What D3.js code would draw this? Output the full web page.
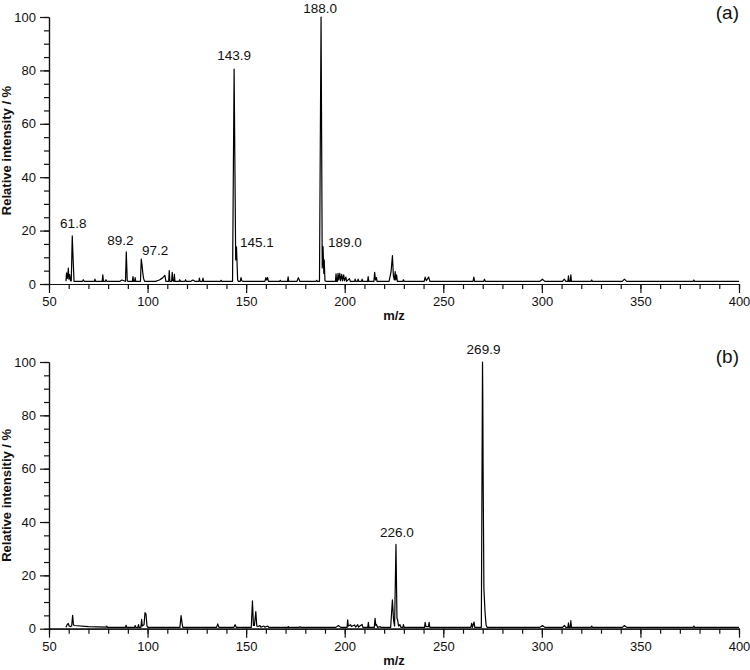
<!DOCTYPE html>
<html lang="en"><head>
<meta charset="utf-8">
<title>Mass spectra (a) and (b)</title>
<script src="https://d3js.org/d3.v7.min.js"></script>
<style>
  body { margin: 0; background: #fff; }
  svg text { font-family: "Liberation Sans", Arial, Helvetica, sans-serif; fill: #111; }
  .axis path, .axis line { stroke: #111; stroke-width: 1.2; fill: none; }
  .axis text { font-size: 13px; }
</style>
<script>
// --- data: [m/z, relative intensity %] ---
const spectrumA = [
  [58.6,1.0],[58.9,4.2],[59.2,2.0],[59.5,3.0],[59.8,6.0],[60.1,1.8],[60.5,3.5],[60.9,1.2],
  [61.3,1.2],[61.8,18.0],[62.3,8.0],[62.7,1.0],[67.0,1.0],[67.4,1.6],[67.8,1.0],
  [73.0,1.0],[73.3,1.8],[73.6,1.0],[77.0,1.0],[77.3,3.4],[77.6,1.0],[78.6,1.0],[78.9,1.6],[79.3,1.0],
  [86.0,1.0],[87.0,1.5],[88.0,1.2],[88.8,1.0],[89.2,12.0],[89.7,1.2],[90.0,1.0],
  [92.3,1.0],[92.6,2.8],[92.9,1.0],[93.4,1.0],[93.7,2.4],[94.0,1.0],
  [96.4,1.0],[96.8,9.3],[97.2,7.0],[97.6,4.0],[98.0,2.0],[98.5,1.0],
  [104.0,1.0],[106.0,1.5],[107.5,2.2],[108.8,3.2],[109.3,1.0],
  [110.7,1.0],[111.0,5.0],[111.3,1.0],[112.2,1.0],[112.5,4.4],[112.8,1.2],[113.3,1.0],[113.6,3.6],[113.9,1.0],
  [116.0,1.0],[116.3,1.6],[116.6,1.0],[119.0,1.0],[119.3,1.6],[119.6,1.0],
  [122.0,1.0],[123.0,1.5],[124.0,1.0],[126.0,1.0],[126.3,2.2],[126.6,1.0],[127.8,1.0],[128.1,2.2],[128.4,1.0],
  [137.0,1.0],[137.3,1.4],[137.6,1.0],
  [143.1,1.0],[143.9,80.5],[144.7,9.0],[145.1,13.9],[145.7,1.5],[146.1,1.0],
  [147.0,1.0],[147.4,2.4],[147.8,1.2],[148.3,1.0],
  [159.5,1.0],[160.0,2.4],[160.4,1.5],[160.9,2.4],[161.3,1.0],
  [167.0,1.0],[167.3,1.4],[167.6,1.0],[171.0,1.0],[171.3,2.7],[171.6,1.0],
  [175.8,1.0],[176.5,2.4],[177.2,1.0],[185.5,1.0],[185.8,1.4],[186.1,1.0],
  [187.2,1.0],[188.0,100],[188.6,6.0],[189.0,14.0],[189.4,4.0],[189.6,9.0],[190.0,1.2],[190.5,1.0],
  [195.3,1.0],[195.6,3.8],[195.9,1.0],[196.3,1.0],[196.6,4.0],[196.9,1.5],[197.5,4.0],[197.8,1.2],
  [198.5,3.6],[198.8,1.2],[199.5,3.4],[199.8,1.2],[200.6,2.6],[200.9,1.0],[202.4,2.0],[202.8,1.0],
  [205.0,1.0],[205.3,1.8],[205.6,1.0],[206.5,1.0],[206.8,1.8],[207.1,1.0],[208.5,1.0],[208.8,1.8],[209.1,1.0],
  [211.6,1.0],[211.9,2.8],[212.2,1.0],[214.8,1.0],[215.2,4.4],[215.6,1.5],[216.1,2.4],[216.4,1.0],
  [222.5,1.0],[223.5,4.5],[224.2,10.6],[224.7,3.0],[225.2,1.5],[225.6,4.6],[225.9,1.5],[226.3,3.4],[226.7,1.0],
  [229.5,1.0],[229.8,1.6],[230.1,1.0],
  [240.3,1.0],[240.8,2.6],[241.4,1.2],[242.6,2.6],[243.2,1.0],
  [265.1,1.0],[265.5,2.6],[265.9,1.0],[270.5,1.0],[270.9,1.8],[271.3,1.0],
  [299.0,1.0],[300.3,1.8],[301.5,1.0],
  [310.5,1.0],[311.4,1.8],[312.2,1.0],[313.2,1.0],[313.5,3.1],[313.8,1.0],[314.4,1.0],[314.7,3.4],[315.0,1.0],
  [325.0,1.0],[325.3,1.5],[325.6,1.0],[340.8,1.0],[341.9,1.8],[343.0,1.0],
  [376.8,1.0],[377.1,1.5],[377.4,1.0],[400,1.0]
];

const spectrumB = [
  [58.6,0.5],[59.2,1.5],[59.8,2.0],[60.2,1.0],[60.8,0.8],[61.5,1.0],[62.0,5.0],[62.4,1.5],[62.8,1.2],
  [70.0,0.8],[79.0,0.6],[79.3,1.0],[79.6,0.5],
  [88.8,0.5],[89.1,1.3],[89.4,0.5],[93.4,0.5],[93.7,1.2],[94.0,0.5],[95.1,0.5],[95.4,1.5],[95.7,0.5],
  [96.6,0.5],[97.0,3.5],[97.3,1.0],[98.2,1.5],[98.7,6.0],[99.2,5.5],[99.7,1.0],[100.2,0.5],
  [116.4,0.5],[117.0,4.9],[117.5,2.0],[117.9,0.5],
  [135.0,0.5],[135.6,1.8],[136.2,0.5],[143.8,0.5],[144.4,1.5],[145.0,0.5],
  [152.6,0.5],[153.2,10.4],[153.7,1.2],[154.2,1.2],[154.9,6.4],[155.4,1.0],[156.0,0.8],
  [157.0,1.2],[157.5,0.6],[159.0,1.0],[159.5,0.6],[161.0,1.0],[161.5,0.5],
  [171.2,0.5],[171.4,0.8],[171.7,0.5],[177.0,0.5],[177.4,0.8],[177.8,0.5],
  [195.5,0.5],[196.8,1.2],[198.0,0.5],
  [201.2,0.5],[201.5,3.3],[201.8,1.0],[203.0,1.5],[203.4,0.8],[205.0,1.4],[205.5,0.6],
  [206.6,1.5],[207.0,0.6],[208.8,1.6],[209.2,0.5],[211.7,0.5],[212.0,2.4],[212.3,0.5],
  [215.0,0.5],[215.4,3.9],[215.8,1.2],[216.2,1.5],[216.6,0.5],[218.0,0.8],[218.4,0.5],
  [223.3,0.5],[224.2,10.8],[224.8,3.0],[225.3,1.0],[226.0,31.6],[226.5,4.0],[226.9,3.0],[227.3,1.0],
  [228.0,1.5],[228.5,0.5],[229.5,0.5],[229.8,1.5],[230.1,0.5],
  [240.5,0.5],[240.8,2.4],[241.2,0.8],[242.5,0.8],[242.8,2.4],[243.2,0.5],
  [264.0,0.5],[264.4,2.0],[264.8,0.5],[265.6,2.5],[266.0,0.5],
  [269.3,0.5],[269.9,100],[270.05,85],[270.2,60],[270.6,15],[271.2,6.0],[271.7,1.5],[272.2,0.5],
  [299.0,0.5],[300.3,1.2],[301.5,0.5],
  [310.5,0.5],[311.4,1.2],[312.2,0.5],[313.2,0.5],[313.5,2.2],[313.8,0.5],[314.4,0.5],[314.7,3.0],[315.0,0.5],
  [325.0,0.5],[325.3,1.0],[325.6,0.5],[340.8,0.5],[341.9,1.2],[343.0,0.5],
  [376.8,0.5],[377.1,1.0],[377.4,0.5],[400,0.5]
];

// peak annotations: [text, m/z, intensity]
const labelsA = [["61.8",61.8,18],["89.2",89.2,12],["97.2",97.2,9.3],["143.9",143.9,80.5],
                 ["145.1",145.1,13.9],["188.0",188.0,100],["189.0",189.0,14]];
const labelsB = [["226.0",226.0,31.6],["269.9",269.9,100]];

const xMajor = [50, 100, 150, 200, 250, 300, 350, 400];
const xMinor = d3.range(50, 401, 10);
const yMajor = [0, 20, 40, 60, 80, 100];
const yMinor = d3.range(0, 101, 5);
</script>
</head>
<body>
<script>
const width = 750, height = 670;
const left = 49, right = 739;

// label nudges in pixels: [dx, dy, anchor]
const nudge = {
  "61.8": [1, -7.5, "middle"], "89.2": [-6, -7, "middle"], "97.2": [13, -4, "middle"],
  "143.9": [0, -9, "middle"], "145.1": [3.5, 0.5, "start"], "188.0": [-1, -4.5, "middle"],
  "189.0": [5, 0.5, "start"], "226.0": [1, -7.7, "middle"], "269.9": [1, -8, "middle"]
};

const svg = d3.select("body").append("svg")
  .attr("width", width).attr("height", height);

const drawPanel = (spectrum, labels, top, bottom, tag, title, tagY) => {
  const x = d3.scaleLinear().domain([50, 400]).range([left, right]);
  const y = d3.scaleLinear().domain([0, 100]).range([bottom, top]);
  const g = svg.append("g");

  // minor ticks
  g.append("g").attr("class", "axis")
    .attr("transform", "translate(0," + bottom + ")")
    .call(d3.axisBottom(x).tickValues(xMinor).tickSize(5).tickSizeOuter(0).tickFormat(""));
  g.append("g").attr("class", "axis")
    .attr("transform", "translate(" + left + ",0)")
    .call(d3.axisLeft(y).tickValues(yMinor).tickSize(5).tickSizeOuter(0).tickFormat(""));

  // major ticks + labels
  g.append("g").attr("class", "axis")
    .attr("transform", "translate(0," + bottom + ")")
    .call(d3.axisBottom(x).tickValues(xMajor).tickSize(9).tickSizeOuter(0).tickPadding(4))
    .call(a => a.selectAll("text").attr("fill", "#111"));
  g.append("g").attr("class", "axis")
    .attr("transform", "translate(" + left + ",0)")
    .call(d3.axisLeft(y).tickValues(yMajor).tickSize(9).tickSizeOuter(0).tickPadding(4))
    .call(a => a.selectAll("text").attr("fill", "#111"));

  // spectrum trace
  g.append("path")
    .datum(spectrum)
    .attr("fill", "none")
    .attr("stroke", "#000")
    .attr("stroke-width", 1.2)
    .attr("stroke-linejoin", "round")
    .attr("d", d3.line().x(d => x(d[0])).y(d => y(d[1])));

  // peak labels
  g.selectAll(".peak")
    .data(labels)
    .enter().append("text")
    .attr("class", "peak")
    .attr("x", d => x(d[1]) + nudge[d[0]][0])
    .attr("y", d => y(d[2]) + nudge[d[0]][1])
    .attr("text-anchor", d => nudge[d[0]][2])
    .attr("font-size", "13.5px")
    .text(d => d[0]);

  // axis titles
  g.append("text")
    .attr("x", (left + right) / 2).attr("y", bottom + 36)
    .attr("text-anchor", "middle")
    .attr("font-size", "13px").attr("font-weight", "bold")
    .text("m/z");
  g.append("text")
    .attr("transform", "translate(11," + ((top + bottom) / 2) + ") rotate(-90)")
    .attr("text-anchor", "middle")
    .attr("font-size", "13px").attr("font-weight", "bold")
    .text(title);

  // panel tag
  g.append("text")
    .attr("x", right).attr("y", tagY)
    .attr("text-anchor", "end")
    .attr("font-size", "19px")
    .text(tag);
};

drawPanel(spectrumA, labelsA, 17, 284, "(a)", "Relative intensity / %", 18.5);
drawPanel(spectrumB, labelsB, 362, 628.7, "(b)", "Relative intensitiy / %", 363);
</script>
</body></html>
